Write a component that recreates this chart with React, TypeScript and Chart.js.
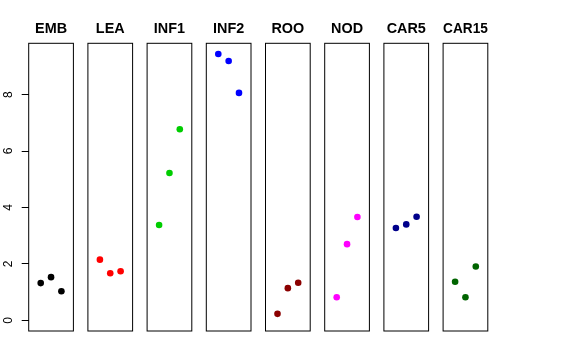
import React, { useEffect, useRef } from "react";
import { Chart, registerables } from "chart.js";

Chart.register(...registerables);

const categories = ["EMB", "LEA", "INF1", "INF2", "ROO", "NOD", "CAR5", "CAR15"];
const replicates = [1, 2, 3];
const EMB = [1.32, 1.53, 1.03];
const LEA = [2.15, 1.67, 1.74];
const INF1 = [3.38, 5.22, 6.77];
const INF2 = [9.44, 9.19, 8.06];
const ROO = [0.23, 1.14, 1.33];
const NOD = [0.82, 2.7, 3.66];
const CAR5 = [3.27, 3.4, 3.67];
const CAR15 = [1.37, 0.82, 1.91];
const yTicks = [0, 2, 4, 6, 8];

const seriesValues = [EMB, LEA, INF1, INF2, ROO, NOD, CAR5, CAR15];
const colors = ["#000000", "#FF0000", "#00CD00", "#0000FF", "#8B0000", "#FF00FF", "#00008B", "#006400"];

// layout (pixels)
const W = 576;
const H = 360;
const PANEL_LEFT0 = 28.7;
const PANEL_STEP = 59.2;
const PANEL_W = 44.7;
const PLOT_TOP = 43.3;
const PLOT_BOTTOM = 331;
const FONT = "'Liberation Sans', Arial, Helvetica, sans-serif";
const TITLE_SIZE = 14.4;
const TITLE_LH = 1.2;
const TITLE_CENTER = 28.8;

const allVals = seriesValues.flat();
const yMaxData = Math.max(...allVals);
const Y_MIN = 0 - 0.04 * yMaxData;
const Y_MAX = yMaxData * 1.04;
const X_MIN = 0 - 0.04 * 4;
const X_MAX = 4 + 0.04 * 4;

const boxPlugin = {
  id: "panelBox",
  afterDraw(chart: any) {
    const { ctx, chartArea } = chart;
    ctx.save();
    ctx.strokeStyle = "#000";
    ctx.lineWidth = 1;
    ctx.strokeRect(chartArea.left, chartArea.top, chartArea.right - chartArea.left, chartArea.bottom - chartArea.top);
    ctx.restore();
  },
};

function Panel({ index }: { index: number }) {
  const ref = useRef<HTMLCanvasElement>(null);
  const panelLeft = PANEL_LEFT0 + PANEL_STEP * index;
  const first = index === 0;
  const canvasLeft = first ? 0 : Math.round(panelLeft - 12);
  const canvasW = Math.round(panelLeft + PANEL_W + 12) - canvasLeft;
  const padLeft = first ? 0 : panelLeft - canvasLeft;
  const padRight = canvasLeft + canvasW - (panelLeft + PANEL_W);

  useEffect(() => {
    const lineH = TITLE_SIZE * TITLE_LH;
    const tTop = TITLE_CENTER - lineH / 2;
    const tBottom = PLOT_TOP - tTop - lineH;
    const yScale: any = {
      type: "linear",
      min: Y_MIN,
      max: Y_MAX,
      display: first,
    };
    if (first) {
      Object.assign(yScale, {
        afterBuildTicks: (scale: any) => {
          scale.ticks = yTicks.map((v) => ({ value: v }));
        },
        afterFit: (scale: any) => {
          scale.width = PANEL_LEFT0;
        },
        border: { display: false },
        grid: {
          display: true,
          drawOnChartArea: false,
          drawTicks: true,
          tickLength: 7,
          color: "#000",
          lineWidth: 1,
        },
        ticks: {
          color: "#000",
          font: { family: FONT, size: 12 },
          minRotation: 90,
          maxRotation: 90,
          crossAlign: "center",
          padding: 9.8,
          callback: (v: any) => String(v),
        },
      });
    }
    const chart = new Chart(ref.current as HTMLCanvasElement, {
      type: "scatter",
      data: {
        datasets: [
          {
            label: categories[index],
            data: replicates.map((x, i) => ({ x, y: seriesValues[index][i] })),
            backgroundColor: colors[index],
            borderColor: colors[index],
            borderWidth: 0,
            pointRadius: 3.3,
          },
        ],
      },
      options: {
        animation: false,
        responsive: false,
        events: [],
        layout: { padding: { left: padLeft, right: padRight, top: 0, bottom: H - PLOT_BOTTOM } },
        plugins: {
          legend: { display: false },
          tooltip: { enabled: false },
          title: {
            display: true,
            text: categories[index],
            fullSize: false,
            color: "#000",
            font: { family: FONT, size: TITLE_SIZE, weight: "bold", lineHeight: TITLE_LH },
            padding: { top: tTop, bottom: tBottom },
          },
        },
        scales: {
          x: { type: "linear", min: X_MIN, max: X_MAX, display: false },
          y: yScale,
        },
      },
      plugins: [boxPlugin],
    } as any);
    return () => chart.destroy();
  }, []);

  return (
    <canvas
      ref={ref}
      width={canvasW}
      height={H}
      style={{ position: "absolute", left: canvasLeft, top: 0, width: canvasW, height: H }}
    />
  );
}

export default function App() {
  return (
    <div style={{ position: "fixed", left: 0, top: 0, width: W, height: H, background: "#fff", overflow: "hidden" }}>
      {categories.map((c, i) => (
        <Panel key={c} index={i} />
      ))}
    </div>
  );
}
